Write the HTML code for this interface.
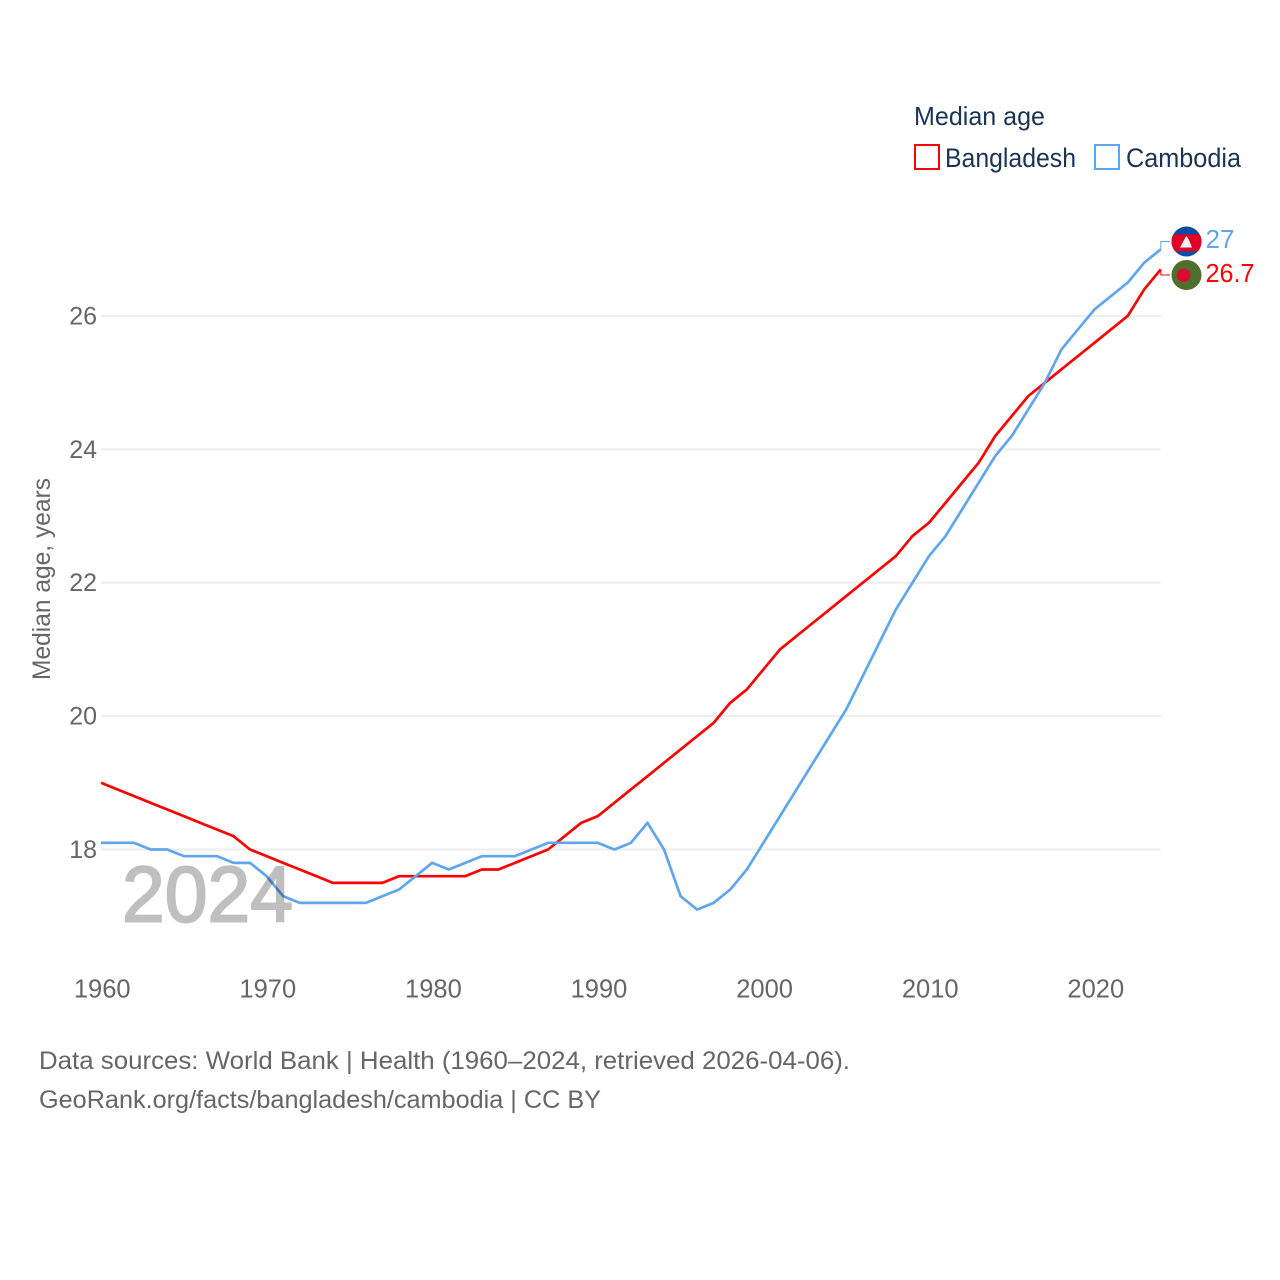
<!DOCTYPE html>
<html>
<head>
<meta charset="utf-8">
<title>Median age</title>
<style>
html,body{margin:0;padding:0;background:#fff;width:1280px;height:1280px;overflow:hidden}
svg{display:block}
text{font-family:"Liberation Sans",sans-serif}
</style>
</head>
<body>
<svg id="chart" xmlns="http://www.w3.org/2000/svg" width="1280" height="1280" viewBox="0 0 1280 1280">
  <rect width="1280" height="1280" fill="#fff"/>
  <g id="grid"></g>
  <g id="yticks"></g>
  <g id="xticks"></g>
  <text transform="translate(50,680) rotate(-90)" font-size="25" fill="#666" textLength="202" lengthAdjust="spacingAndGlyphs">Median age, years</text>
  <g id="series"></g>
  <g opacity="0.247">
    <text id="year" x="122" y="921.5" font-size="79" fill="#000" stroke="#000" stroke-width="2" textLength="171" lengthAdjust="spacingAndGlyphs">2024</text>
  </g>

  <g>
    <text x="914" y="125" font-size="26" fill="#1b3454" textLength="131" lengthAdjust="spacingAndGlyphs">Median age</text>
    <rect x="915" y="145" width="24" height="24" fill="#fff" stroke="#ff0000" stroke-width="2"/>
    <text x="945" y="167" font-size="26.5" fill="#1b3454" textLength="131" lengthAdjust="spacingAndGlyphs">Bangladesh</text>
    <rect x="1095" y="145" width="24" height="24" fill="#fff" stroke="#5fa6ee" stroke-width="2"/>
    <text x="1126" y="167" font-size="26.5" fill="#1b3454" textLength="115" lengthAdjust="spacingAndGlyphs">Cambodia</text>
  </g>

  <defs>
    <clipPath id="clip-kh"><circle cx="1186.5" cy="241.5" r="15"/></clipPath>
    <clipPath id="clip-bd"><circle cx="1186.5" cy="275" r="15"/></clipPath>
  </defs>
  <g id="connectors"></g>
  <g clip-path="url(#clip-kh)">
    <rect x="1170" y="226" width="34" height="32" fill="#0b4ea6"/>
    <rect x="1170" y="234.3" width="34" height="17" fill="#e00025"/>
    <polygon points="1186.5,236 1189,240 1192,247.5 1180,247.5 1184,240" fill="#f2f2f2"/>
  </g>
  <g clip-path="url(#clip-bd)">
    <rect x="1170" y="259" width="34" height="32" fill="#4f6f2e"/>
    <circle cx="1183.5" cy="275.3" r="6.8" fill="#dd0a30"/>
  </g>
  <text id="label-kh" x="1205.5" y="248" font-size="26" fill="#5fa6ee" textLength="29" lengthAdjust="spacingAndGlyphs"></text>
  <text id="label-bd" x="1205.5" y="282" font-size="26" fill="#ff0000" textLength="49" lengthAdjust="spacingAndGlyphs"></text>

  <text x="39" y="1069" font-size="25" fill="#666" textLength="811" lengthAdjust="spacingAndGlyphs">Data sources: World Bank | Health (1960–2024, retrieved 2026-04-06).</text>
  <text x="39" y="1108" font-size="25" fill="#666" textLength="562" lengthAdjust="spacingAndGlyphs">GeoRank.org/facts/bangladesh/cambodia | CC BY</text>
</svg>
<script>
const years = [1960,1961,1962,1963,1964,1965,1966,1967,1968,1969,1970,1971,1972,1973,1974,1975,1976,1977,1978,1979,1980,1981,1982,1983,1984,1985,1986,1987,1988,1989,1990,1991,1992,1993,1994,1995,1996,1997,1998,1999,2000,2001,2002,2003,2004,2005,2006,2007,2008,2009,2010,2011,2012,2013,2014,2015,2016,2017,2018,2019,2020,2021,2022,2023,2024];
const bangladesh = [19,18.9,18.8,18.7,18.6,18.5,18.4,18.3,18.2,18,17.9,17.8,17.7,17.6,17.5,17.5,17.5,17.5,17.6,17.6,17.6,17.6,17.6,17.7,17.7,17.8,17.9,18,18.2,18.4,18.5,18.7,18.9,19.1,19.3,19.5,19.7,19.9,20.2,20.4,20.7,21,21.2,21.4,21.6,21.8,22,22.2,22.4,22.7,22.9,23.2,23.5,23.8,24.2,24.5,24.8,25,25.2,25.4,25.6,25.8,26,26.4,26.7];
const cambodia = [18.1,18.1,18.1,18,18,17.9,17.9,17.9,17.8,17.8,17.6,17.3,17.2,17.2,17.2,17.2,17.2,17.3,17.4,17.6,17.8,17.7,17.8,17.9,17.9,17.9,18,18.1,18.1,18.1,18.1,18,18.1,18.4,18,17.3,17.1,17.2,17.4,17.7,18.1,18.5,18.9,19.3,19.7,20.1,20.6,21.1,21.6,22,22.4,22.7,23.1,23.5,23.9,24.2,24.6,25,25.5,25.8,26.1,26.3,26.5,26.8,27];
const yTickValues = [18,20,22,24,26];
const xTickValues = [1960,1970,1980,1990,2000,2010,2020];
const endLabels = ["27","26.7"];

const NS = 'http://www.w3.org/2000/svg';
function xScale(year){ return 101 + (year - 1960) * 16.56; }
function yScale(v){ return 849.5 - (v - 18) * 66.69; }
function make(tag, attrs, parent){
  const el = document.createElementNS(NS, tag);
  for (const k in attrs) el.setAttribute(k, attrs[k]);
  parent.appendChild(el);
  return el;
}
const grid = document.getElementById('grid');
const yticks = document.getElementById('yticks');
yTickValues.forEach(function(v){
  const ln = make('line', {x1:xScale(1960), x2:xScale(2024), y1:yScale(v), y2:yScale(v), stroke:'#eeeeee', 'stroke-width':2}, grid);
  
  
  const t = make('text', {x:97, y:yScale(v)+8.5, 'text-anchor':'end', 'font-size':25, fill:'#666'}, yticks);
  
  
  t.textContent = v;
});
const xticks = document.getElementById('xticks');
xTickValues.forEach(function(y){
  const t = make('text', {x:xScale(y)+1.2, y:997.5, 'text-anchor':'middle', 'font-size':25.5, fill:'#666'}, xticks);
  
  
  t.textContent = y;
});
function linePoints(values){
  return values.map(function(v,i){ return xScale(years[i]).toFixed(2)+','+yScale(v).toFixed(2); }).join(' ');
}
const series = document.getElementById('series');
const lineB = make('polyline', {points:linePoints(bangladesh), fill:'none', stroke:'#ff0000', 'stroke-width':2.7, 'stroke-linejoin':'round'}, series);


const lineC = make('polyline', {points:linePoints(cambodia), fill:'none', stroke:'#5fa6ee', 'stroke-width':2.7, 'stroke-linejoin':'round'}, series);



const connectors = document.getElementById('connectors');
const endX = xScale(years[years.length-1]);
const connC = make('polyline', {points:endX+','+yScale(cambodia[cambodia.length-1])+' '+endX+',241.5 1170,241.5', fill:'none', stroke:'#5fa6ee', 'stroke-width':1}, connectors);


const connB = make('polyline', {points:endX+','+yScale(bangladesh[bangladesh.length-1])+' '+endX+',275 1170,275', fill:'none', stroke:'#ff0000', 'stroke-width':1}, connectors);



document.getElementById('label-kh').textContent = endLabels[0];
document.getElementById('label-bd').textContent = endLabels[1];
</script>
</body>
</html>
